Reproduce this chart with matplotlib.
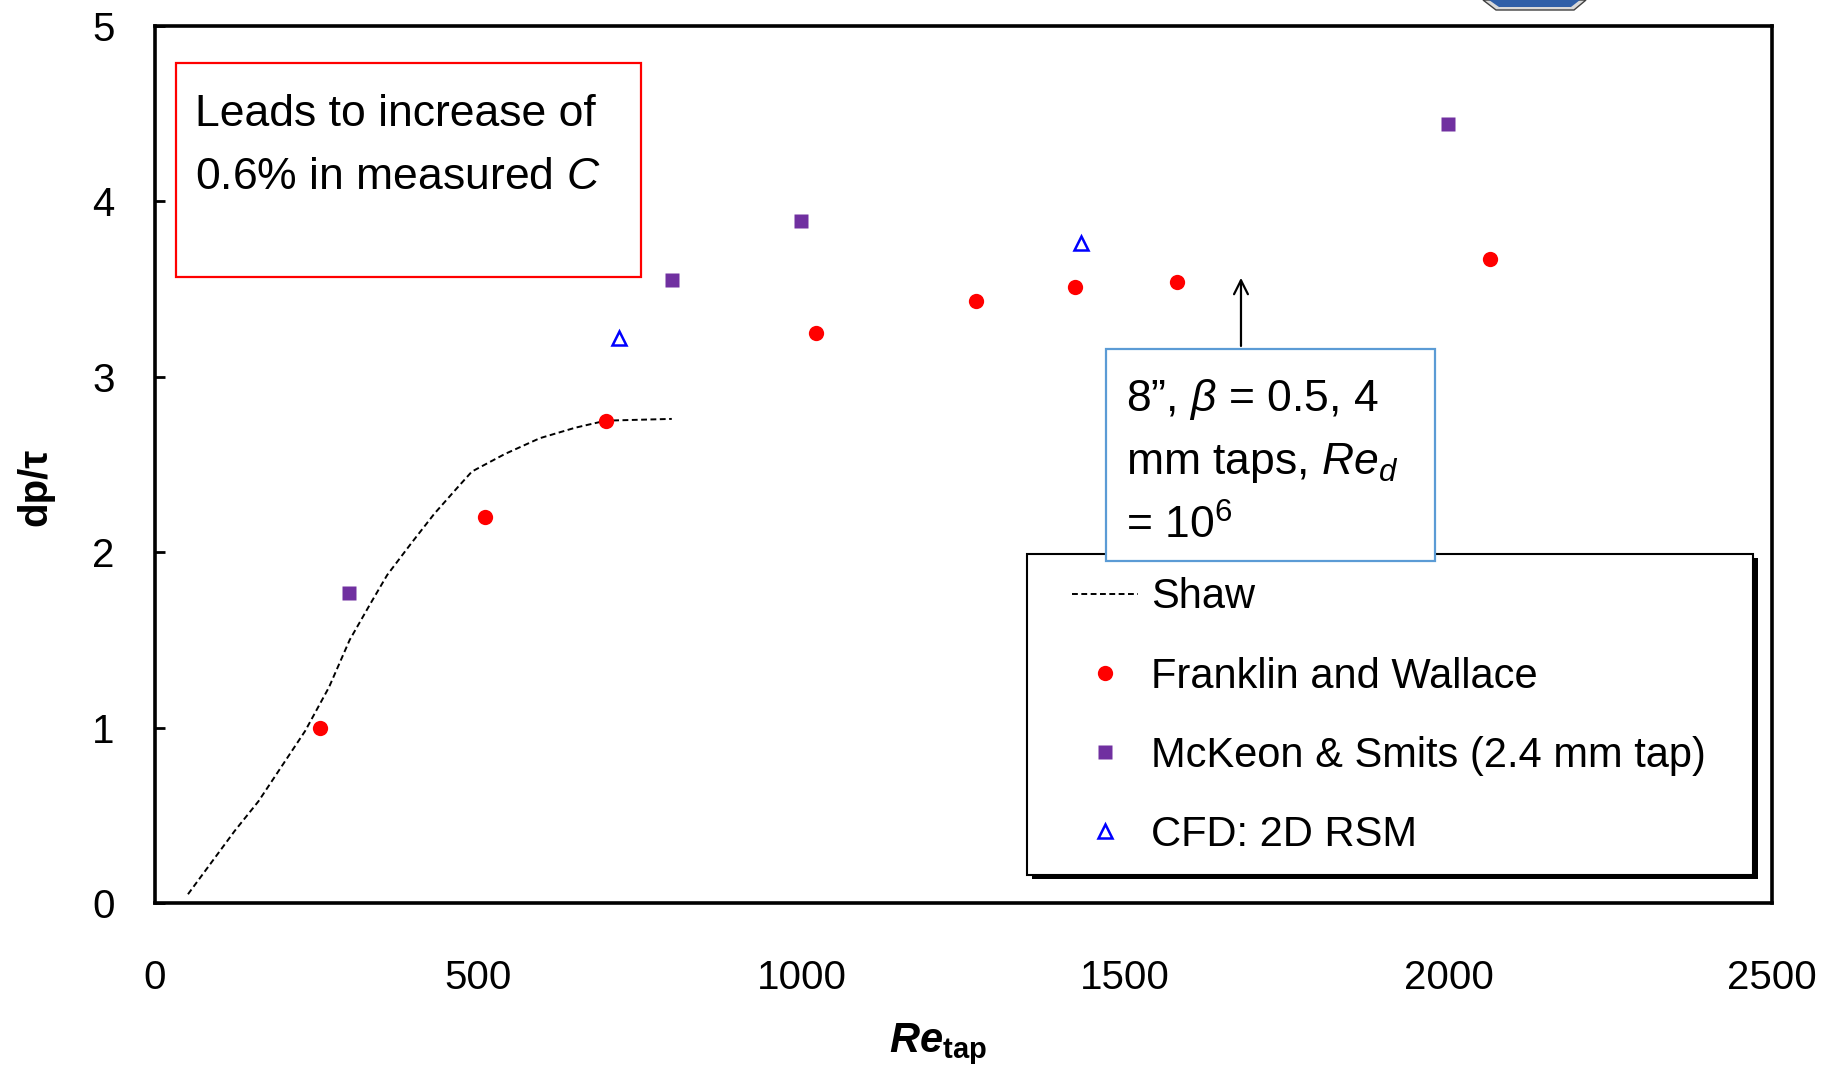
import matplotlib
matplotlib.use("Agg")
import matplotlib.pyplot as plt
from matplotlib.patches import Rectangle, Polygon

# ---- data ----
shaw_x = [51, 87, 123, 160, 196, 232, 269, 301, 332, 359, 396, 432, 468, 490, 541, 595, 650, 697, 799]
shaw_y = [0.05, 0.23, 0.41, 0.58, 0.78, 0.98, 1.23, 1.50, 1.70, 1.87, 2.05, 2.22, 2.37, 2.46, 2.56, 2.65, 2.71, 2.75, 2.76]

fw_x = [255, 510, 697, 1022, 1269, 1423, 1580, 2064]
fw_y = [1.00, 2.20, 2.75, 3.25, 3.43, 3.51, 3.54, 3.67]

mk_x = [300, 799, 999, 1999]
mk_y = [1.77, 3.55, 3.89, 4.44]

cfd_x = [717, 1432]
cfd_y = [3.22, 3.76]

xticks = [0, 500, 1000, 1500, 2000, 2500]
yticks = [0, 1, 2, 3, 4, 5]

arrow_x = 1679
arrow_y0, arrow_y1 = 3.16, 3.58

plt.rcParams['font.family'] = ['Liberation Sans', 'DejaVu Sans']
plt.rcParams['mathtext.fontset'] = 'custom'
plt.rcParams['mathtext.rm'] = 'Liberation Sans'
plt.rcParams['mathtext.it'] = 'Liberation Sans:italic'
plt.rcParams['mathtext.bf'] = 'Liberation Sans:bold'
plt.rcParams['mathtext.bfit'] = 'Liberation Sans:italic:bold'

box_size = 32

fig = plt.figure(figsize=(18.41, 10.78), dpi=100)
ax = fig.add_axes([155/1841, 1-903/1078, (1772-155)/1841, (903-26)/1078])

ax.plot(shaw_x, shaw_y, color='black', lw=1.4, linestyle=(0, (3, 1.8)), label='Shaw', zorder=3)
ax.plot(fw_x, fw_y, 'o', color='#FF0000', ms=11, mec='none', label='Franklin and Wallace', zorder=4)
ax.plot(mk_x, mk_y, 's', color='#7030A0', ms=10.5, mec='none', label='McKeon & Smits (2.4 mm tap)', zorder=4)
ax.plot(cfd_x, cfd_y, '^', color='#0000FF', ms=9.5, mfc='none', mew=1.8, label='CFD: 2D RSM', zorder=4)

ax.set_xlim(0, 2500)
ax.set_ylim(0, 5)
ax.set_xticks(xticks)
ax.set_yticks(yticks)
ax.tick_params(axis='y', direction='in', length=7, width=2, labelsize=29, pad=29)
ax.tick_params(axis='x', length=0, labelsize=29, pad=40)
for s in ax.spines.values():
    s.set_linewidth(2.6)

ax.set_xlabel(r'$\mathbfit{Re}_{\mathbf{tap}}$', fontsize=30)
ax.xaxis.set_label_coords(0.484, -0.135)
ax.set_ylabel('dp/τ', fontsize=29, fontweight='bold')
ax.yaxis.set_label_coords(-0.074, 0.474)
ax.yaxis.label.set_va('center')

# red annotation box
ax.add_patch(Rectangle((0.013, 0.714), 0.2877, 0.244, transform=ax.transAxes,
                       fill=False, edgecolor='#FF0000', lw=1.6, zorder=5))
ax.text(0.0247, 0.922, 'Leads to increase of\n0.6% in measured $C$', transform=ax.transAxes,
        ha='left', va='top', fontsize=box_size, linespacing=1.67, zorder=6)

# legend frame with shadow
ax.add_patch(Rectangle((0.5425, 0.027), 0.449, 0.366, transform=ax.transAxes,
                       facecolor='black', edgecolor='black', lw=0, zorder=6))
ax.add_patch(Rectangle((0.539, 0.032), 0.449, 0.366, transform=ax.transAxes,
                       facecolor='white', edgecolor='black', lw=1.5, zorder=7))
leg = ax.legend(loc='upper left', bbox_to_anchor=(0.554, 0.395), frameon=False,
                fontsize=30, borderpad=0, handlelength=1.6, handletextpad=0.3,
                labelspacing=0.94, markerscale=1.0)
leg.set_zorder(8)

# blue annotation box with arrow
ax.add_patch(Rectangle((0.588, 0.390), 0.2036, 0.242, transform=ax.transAxes,
                       facecolor='white', edgecolor='#5B9BD5', lw=1.6, zorder=9))
ax.text(0.6005, 0.600, '8”, $\\beta$ = 0.5, 4\nmm taps, $Re_d$\n= 10$^6$', transform=ax.transAxes,
        ha='left', va='top', fontsize=box_size, linespacing=1.58, zorder=10)
ax.annotate('', xy=(arrow_x, arrow_y1), xytext=(arrow_x, arrow_y0),
            arrowprops=dict(arrowstyle='->', color='black', lw=1.6, mutation_scale=25), zorder=9)

# partial icon at top-right edge of slide
W, H = 1841, 1078
pts_outer = [(1483, 0), (1496, 10), (1574, 10), (1586, 0)]
pts_inner = [(1489, 0), (1499, 7), (1571, 7), (1580, 0)]
fig.patches.append(Polygon([(x / W, 1 - y / H) for x, y in pts_outer], closed=True,
                           transform=fig.transFigure, facecolor='#d9d9d9', edgecolor='#404040', lw=1))
fig.patches.append(Polygon([(x / W, 1 - y / H) for x, y in pts_inner], closed=True,
                           transform=fig.transFigure, facecolor='#2F5FA8', edgecolor='none'))

fig.savefig('out.png', dpi=100)
